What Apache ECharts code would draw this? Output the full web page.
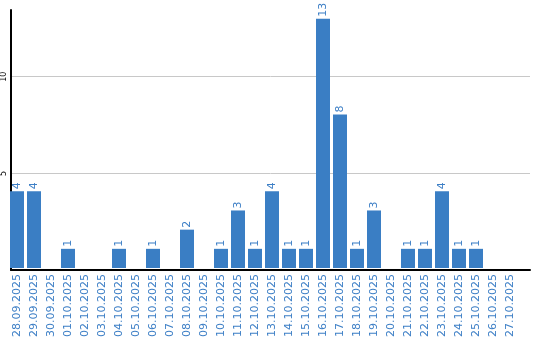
<!DOCTYPE html>
<html><head><meta charset="utf-8">
<script src="https://cdn.jsdelivr.net/npm/echarts@6/dist/echarts.min.js"></script>
<style>html,body{margin:0;padding:0;background:#fff}#c{width:540px;height:340px}</style>
</head><body><div id="c"></div>
<script>
const categories = ['28.09.2025','29.09.2025','30.09.2025','01.10.2025','02.10.2025','03.10.2025','04.10.2025','05.10.2025','06.10.2025','07.10.2025','08.10.2025','09.10.2025','10.10.2025','11.10.2025','12.10.2025','13.10.2025','14.10.2025','15.10.2025','16.10.2025','17.10.2025','18.10.2025','19.10.2025','20.10.2025','21.10.2025','22.10.2025','23.10.2025','24.10.2025','25.10.2025','26.10.2025','27.10.2025'];
const values = [4,4,0,1,0,0,1,0,1,0,2,0,1,3,1,4,1,1,13,8,1,3,0,1,1,4,1,1,0,0];
const yTicks = [0,5,10];
const yMax = 13.45;

const chart = echarts.init(document.getElementById('c'), null, {renderer:'canvas'});
chart.setOption({
  animation:false,
  grid:[
    {left:10, right:10, top:10, bottom:70},
    {left:8.5, width:510, top:10, bottom:70}
  ],
  xAxis:[
    {gridIndex:0, type:'category', data:categories, axisLabel:{show:false}, axisTick:{show:false},
     axisLine:{show:true, lineStyle:{color:'#000', width:2}}, z:5},
    {gridIndex:1, type:'category', data:categories, axisTick:{show:false}, axisLine:{show:false},
     axisLabel:{rotate:90, margin:6, interval:0, color:'#3d7fc6', fontFamily:'DejaVu Sans', fontSize:11}}
  ],
  yAxis:[
    {gridIndex:0, type:'value', min:0, max:yMax, interval:5,
     axisLine:{show:true, lineStyle:{color:'#000', width:2}}, axisTick:{show:false},
     splitLine:{show:true, showMinLine:false, showMaxLine:false, lineStyle:{color:'#c8c8c8', width:1}},
     axisLabel:{rotate:90, margin:3, color:'#000', fontFamily:'DejaVu Sans', fontSize:8,
       showMaxLabel:false,
       formatter:function(v){return (v===0||yTicks.indexOf(v)<0)?'':String(v);}}},
    {gridIndex:1, type:'value', min:0, max:yMax, interval:5, show:false}
  ],
  series:[{
    type:'bar', xAxisIndex:1, yAxisIndex:1, data:values, barWidth:14,
    itemStyle:{color:'#3a7ec4'},
    label:{show:true, position:'top', rotate:90, align:'left', verticalAlign:'middle', distance:2,
      color:'#3d7fc6', fontFamily:'DejaVu Sans', fontSize:11,
      formatter:function(p){return p.value>0?String(p.value):'';}}
  }]
});
</script></body></html>
